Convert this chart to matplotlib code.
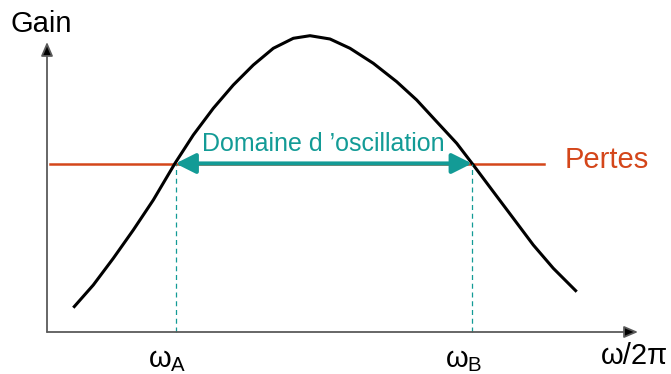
import matplotlib
matplotlib.use('Agg')
import matplotlib.pyplot as plt

plt.rcParams['font.family'] = ['Liberation Sans', 'DejaVu Sans']
plt.rcParams['mathtext.fontset'] = 'custom'
plt.rcParams['mathtext.rm'] = 'Liberation Sans'
plt.rcParams['mathtext.it'] = 'Liberation Sans'

# gain curve (frequency, gain in arbitrary units)
freq = [26.3, 46.3, 66.3, 86.3, 106.3, 128, 146.3, 166.3, 186.3, 206.3, 226.3,
        246.3, 263, 283, 303, 326.3, 349.7, 369.7, 389.7, 409.7, 426.3, 446.3,
        466.3, 486.3, 506.3, 529.7]
gain = [24.3, 47, 73.7, 102, 132, 168.7, 197, 223.7, 247, 267, 283.7,
        293.7, 296.3, 293, 283.7, 268.7, 250.3, 232, 210.3, 188.7, 167, 140.3,
        113.7, 87, 63.7, 40.3]

# losses level and its extent
loss_level = 168.5
loss_range = [3, 497]

# oscillation limits
w_a = 128.5
w_b = 425

# axis extents
x_end = 591
y_end = 290

teal = '#139b96'
red = '#d4461a'
axis_grey = '#5a5a5a'

fig = plt.figure(figsize=(6.71, 3.74), dpi=100)
ax = fig.add_axes([0, 0, 1, 1])
ax.set_xlim(-47, 624)
ax.set_ylim(-42, 332)
ax.axis('off')

# axes with arrows
ax.annotate('', xy=(x_end, 0), xytext=(0, 0),
            arrowprops=dict(arrowstyle='-|>,head_length=0.7,head_width=0.3',
                            color=axis_grey, lw=1.3, mutation_scale=12,
                            shrinkA=0, shrinkB=0, fc='black'))
ax.annotate('', xy=(0, y_end), xytext=(0, 0),
            arrowprops=dict(arrowstyle='-|>,head_length=0.7,head_width=0.3',
                            color=axis_grey, lw=1.3, mutation_scale=12,
                            shrinkA=0, shrinkB=0, fc='black'))

# losses
ax.plot(loss_range, [loss_level, loss_level], color=red, lw=1.8)

# gain curve
ax.plot(freq, gain, color='black', lw=2.2, solid_capstyle='butt',
        solid_joinstyle='round')

# limits
for w in [w_a, w_b]:
    ax.plot([w, w], [0, loss_level], color=teal, lw=0.9, ls=(0, (4, 3)))

# oscillation range
ax.annotate('', xy=(w_b, loss_level), xytext=(w_a, loss_level),
            arrowprops=dict(arrowstyle='<|-|>,head_length=0.8,head_width=0.4',
                            color=teal, lw=3, mutation_scale=15,
                            shrinkA=0, shrinkB=0))
ax.text((w_a + w_b) / 2, 176, 'Domaine d \u2019oscillation', color=teal,
        fontsize=18, ha='center', va='bottom')

ax.text(loss_range[1] + 63, loss_level + 4, 'Pertes', color=red, fontsize=21,
        ha='center', va='center')
ax.text(-6, 308, 'Gain', fontsize=21, ha='center', va='center')
ax.text(w_a - 8, -14, r'$\omega_{A}$', fontsize=21, ha='center', va='top')
ax.text(w_b - 8, -14, r'$\omega_{B}$', fontsize=21, ha='center', va='top')
ax.text(587, -10, '\u03c9/2\u03c0', fontsize=21, ha='center', va='top')

fig.savefig('out.png', dpi=100)
